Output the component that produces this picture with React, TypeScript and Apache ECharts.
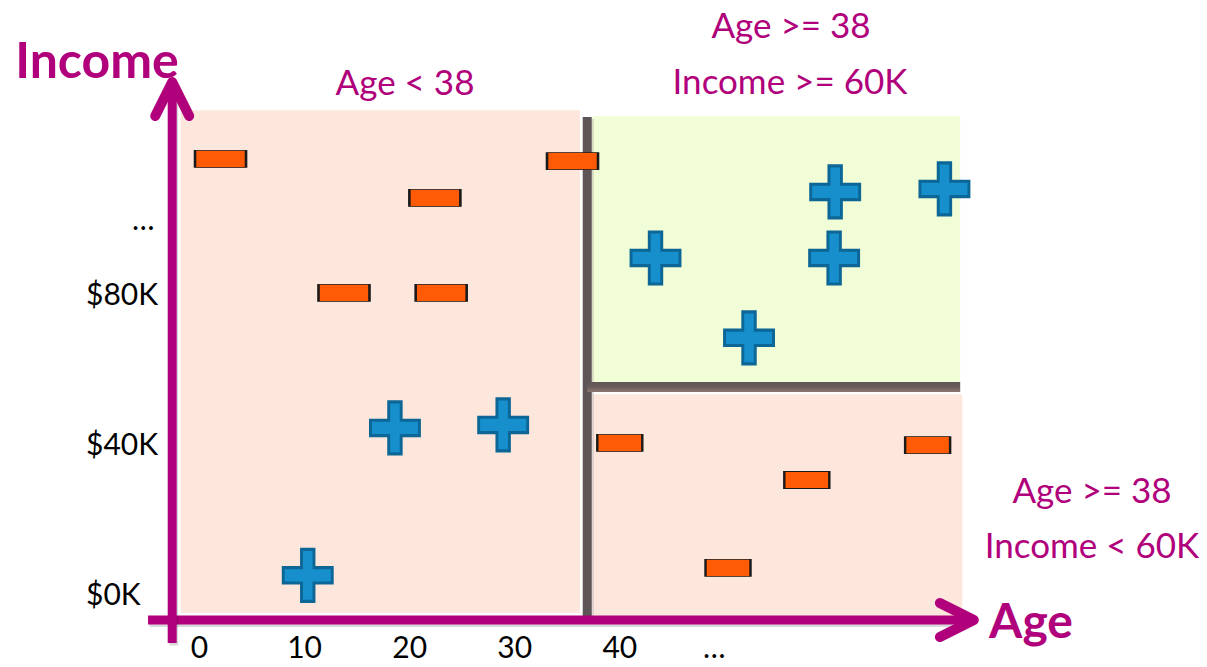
import React, { useEffect, useRef } from 'react';
import * as echarts from 'echarts';

// ---- data ----
const ageTicks = [0, 10, 20, 30, 40, 49];
const ageTickLabels = ['0', '10', '20', '30', '40', '…'];
const incomeTicks = [0, 40, 80, 100];
const incomeTickLabels = ['$0K', '$40K', '$80K', '…'];

// [age, income (K)]
const minusPoints = [
  [2.0, 115.7],
  [35.5, 115.1],
  [22.4, 105.3],
  [13.75, 80.0],
  [23.0, 80.0],
  [40.0, 40.0],
  [69.3, 39.4],
  [57.8, 30.1],
  [50.3, 6.7],
];
const plusPoints = [
  [10.3, 4.7],
  [18.6, 44.0],
  [28.9, 44.8],
  [43.4, 89.3],
  [60.5, 106.9],
  [70.9, 107.7],
  [60.4, 89.3],
  [52.3, 68.0],
];

const splitAge = 36.9;
const splitIncome = 54.9;

// regions: [ageFrom, incomeFrom, ageTo, incomeTo]
const regions = [
  [-1.8, -5.3, 36.2, 128.7],
  [37.4, 56.2, 72.4, 127.1],
  [37.45, -7.0, 72.6, 53.0],
];
const splitLines = [
  [splitAge, -7.2, splitAge, 126.9],
  [splitAge, splitIncome, 72.4, splitIncome],
];
const axisLines = [
  [-4.9, -7.2, 73.7, -7.2],
  [-2.6, -13.3, -2.6, 136.2],
];

const regionTitles = [
  { text: 'Age < 38', x: 405, y: 81 },
  { text: 'Age >= 38', x: 791, y: 24 },
  { text: 'Income >= 60K', x: 790, y: 80 },
  { text: 'Age >= 38', x: 1092, y: 489 },
  { text: 'Income < 60K', x: 1092, y: 544 },
];

const MAGENTA = '#b0007b';
const FONT = 'Lato, "Open Sans", sans-serif';
const regionColors = ['#fde6dc', '#f0fdd6', '#fde6dc'];

export default function App() {
  const ref = useRef<HTMLDivElement>(null);

  useEffect(() => {
    if (!ref.current) return;
    const chart = echarts.init(ref.current, undefined, { renderer: 'svg' });

    const option: any = {
      animation: false,
      backgroundColor: '#ffffff',
      grid: { left: 168, top: 109, width: 788, height: 514 },
      xAxis: {
        type: 'value',
        min: -3,
        max: 72,
        axisLine: { show: false },
        axisTick: { show: false },
        splitLine: { show: false },
        axisLabel: {
          customValues: ageTicks,
          margin: 7,
          color: '#000',
          fontSize: 30,
          lineHeight: 32,
          fontFamily: FONT,
          formatter: (v: number) => ageTickLabels[ageTicks.indexOf(v)] ?? '',
        },
      },
      yAxis: {
        type: 'value',
        min: -8,
        max: 129,
        axisLine: { show: false },
        axisTick: { show: false },
        splitLine: { show: false },
        axisLabel: {
          customValues: incomeTicks,
          margin: 82,
          align: 'left',
          color: '#000',
          fontSize: 30,
          fontFamily: FONT,
          formatter: (v: number) => {
            const i = incomeTicks.indexOf(v);
            const t = incomeTickLabels[i] ?? '';
            return t === '…' ? '{dots|…}' : t;
          },
          rich: {
            dots: { padding: [0, 0, 0, 46], fontSize: 30, fontFamily: FONT, color: '#000' },
          },
        },
      },
      graphic: [
        {
          type: 'text',
          x: 97,
          y: 59,
          style: {
            text: 'Income',
            fill: MAGENTA,
            fontSize: 50,
            fontWeight: 'bold',
            fontFamily: FONT,
            textAlign: 'center',
            textVerticalAlign: 'middle',
          },
        },
        {
          type: 'text',
          x: 1031,
          y: 619,
          style: {
            text: 'Age',
            fill: MAGENTA,
            fontSize: 48,
            fontWeight: 'bold',
            fontFamily: FONT,
            textAlign: 'center',
            textVerticalAlign: 'middle',
          },
        },
        ...regionTitles.map((t) => ({
          type: 'text',
          x: t.x,
          y: t.y,
          style: {
            text: t.text,
            fill: MAGENTA,
            fontSize: 35,
            fontFamily: FONT,
            textAlign: 'center',
            textVerticalAlign: 'middle',
          },
        })),
      ],
      series: [
        {
          type: 'custom',
          name: 'regions',
          silent: true,
          clip: false,
          z: 1,
          data: regions,
          renderItem: (params: any, api: any) => {
            const p0 = api.coord([api.value(0), api.value(3)]);
            const p1 = api.coord([api.value(2), api.value(1)]);
            return {
              type: 'rect',
              shape: { x: p0[0], y: p0[1], width: p1[0] - p0[0], height: p1[1] - p0[1] },
              style: { fill: regionColors[params.dataIndex] },
            };
          },
        },
        {
          type: 'custom',
          name: 'splits',
          silent: true,
          clip: false,
          z: 2,
          data: splitLines,
          renderItem: (params: any, api: any) => {
            const p0 = api.coord([api.value(0), api.value(1)]);
            const p1 = api.coord([api.value(2), api.value(3)]);
            if (Math.abs(p0[0] - p1[0]) < 0.5) {
              const top = Math.min(p0[1], p1[1]);
              const h = Math.abs(p1[1] - p0[1]);
              return {
                type: 'group',
                children: [
                  {
                    type: 'rect',
                    shape: { x: p0[0] - 4.5 + 2, y: top + 2, width: 9, height: h },
                    style: { fill: 'rgba(120,100,90,0.25)' },
                  },
                  {
                    type: 'rect',
                    shape: { x: p0[0] - 4.5, y: top, width: 9, height: h },
                    style: { fill: '#5e5556' },
                  },
                ],
              };
            }
            return {
              type: 'rect',
              shape: { x: p0[0], y: p0[1] - 5, width: p1[0] - p0[0], height: 10 },
              style: {
                fill: new echarts.graphic.LinearGradient(0, 0, 0, 1, [
                  { offset: 0, color: '#5e5556' },
                  { offset: 0.5, color: '#6a5c5a' },
                  { offset: 1, color: '#8e7771' },
                ]),
              },
            };
          },
        },
        {
          type: 'custom',
          name: 'axes',
          silent: true,
          clip: false,
          z: 3,
          data: axisLines,
          renderItem: (params: any, api: any) => {
            const p0 = api.coord([api.value(0), api.value(1)]);
            const p1 = api.coord([api.value(2), api.value(3)]);
            const dx = p1[0] - p0[0];
            const dy = p1[1] - p0[1];
            const len = Math.sqrt(dx * dx + dy * dy);
            const ux = dx / len;
            const uy = dy / len;
            const px = -uy;
            const py = ux;
            const back = 34;
            const half = 17;
            const a1 = [p1[0] - ux * back + px * half, p1[1] - uy * back + py * half];
            const a2 = [p1[0] - ux * back - px * half, p1[1] - uy * back - py * half];
            const end = [p1[0] - ux * 5, p1[1] - uy * 5];
            return {
              type: 'group',
              children: [
                {
                  type: 'polyline',
                  shape: { points: [[p0[0] + 1.5, p0[1] + 2.5], [end[0] + 1.5, end[1] + 2.5]] },
                  style: { stroke: 'rgba(0,0,0,0.15)', lineWidth: 9, fill: 'none' },
                },
                {
                  type: 'polyline',
                  shape: { points: [p0, end] },
                  style: { stroke: MAGENTA, lineWidth: 9, fill: 'none' },
                },
                {
                  type: 'polyline',
                  shape: { points: [a1, p1, a2] },
                  style: {
                    stroke: MAGENTA,
                    lineWidth: 10,
                    fill: 'none',
                    lineCap: 'round',
                    lineJoin: 'round',
                  },
                },
              ],
            };
          },
        },
        {
          type: 'scatter',
          name: 'minus',
          z: 5,
          silent: true,
          data: minusPoints,
          symbol: 'rect',
          symbolSize: (val: number[]) =>
            val[0] > splitAge && val[1] < splitIncome ? [45, 17] : [51, 17],
          itemStyle: { color: '#ff5a05', borderColor: '#1a1a1a', borderWidth: 1.5, opacity: 1 },
          emphasis: { disabled: true },
        },
        {
          type: 'scatter',
          name: 'plus',
          z: 5,
          silent: true,
          data: plusPoints,
          symbol: 'path://M19,0H32V19H51V35H32V54H19V35H0V19H19Z',
          symbolSize: [49, 52],
          itemStyle: { color: '#168fcc', borderColor: '#0c6696', borderWidth: 3, opacity: 1 },
          emphasis: { disabled: true },
        },
      ],
    };

    chart.setOption(option);
    return () => chart.dispose();
  }, []);

  return (
    <div
      ref={ref}
      style={{ position: 'fixed', left: 0, top: 0, width: 1207, height: 667, background: '#fff' }}
    />
  );
}
